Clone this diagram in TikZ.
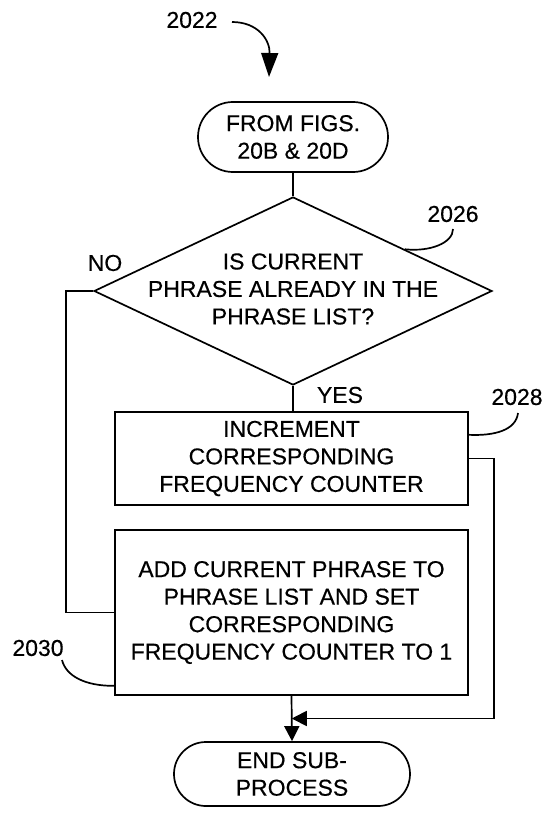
\documentclass[tikz,border=0pt]{standalone}
\usepackage{fontspec}
\setmainfont[FakeBold=0.4]{Liberation Sans}
\usetikzlibrary{shapes.geometric,arrows.meta,calc}
\begin{document}
\begin{tikzpicture}[x=1pt,y=-1pt,
  txt/.style={font=\fontsize{23}{27.5}\selectfont, align=center, inner sep=0pt},
  ln/.style={line width=1.7pt},
  term/.style={txt, draw, line width=1.7pt},
  procbox/.style={txt, draw, line width=1.7pt},
  arr/.style={-{Triangle[length=15pt,width=15pt]}},
  bigarr/.style={-{Triangle[length=24pt,width=17pt]}},
]
\useasboundingbox (0,0) rectangle (548,813);
% nodes
\node[term, rounded corners=34.9pt, minimum width=190pt, minimum height=70pt] (start) at (293,137) {FROM FIGS.\\20B \& 20D};
\node[draw, line width=1.7pt, shape=diamond, inner sep=0pt, minimum width=398pt, minimum height=188pt] (dec) at (293,291) {};
\node[txt] (dectext) at (293,289) {IS CURRENT\\PHRASE ALREADY IN THE\\PHRASE LIST?};
\node[procbox, minimum width=353pt, minimum height=93pt] (inc) at (291.5,458.5) {INCREMENT\\CORRESPONDING\\FREQUENCY COUNTER};
\node[procbox, minimum width=353pt, minimum height=165pt] (add) at (291.5,612.5) {ADD CURRENT PHRASE TO\\PHRASE LIST AND SET\\CORRESPONDING\\FREQUENCY COUNTER TO 1};
\node[term, rounded corners=31.9pt, minimum width=236pt, minimum height=64pt] (fin) at (292,774) {END SUB-\\PROCESS};
% labels
\node[txt] (l2022) at (192,20) {2022};
\node[txt] (l2026) at (453,214) {2026};
\node[txt] (l2028) at (517,397) {2028};
\node[txt] (l2030) at (38,648) {2030};
\node[txt] (lno) at (105,263) {NO};
\node[txt] (lyes) at (340,395) {YES};
% coordinates
\coordinate (a0) at (232,22);
\coordinate (a1) at (269,77);
\coordinate (join) at ($(add.south)!0.5!(fin.north)$);
\coordinate (e2026) at ($(dec.north)!0.56!(dec.east)$);
\coordinate (e2028) at ($(inc.north east)!0.25!(inc.south east)$);
\coordinate (e2030) at ($(add.north west)!0.94!(add.south west)$);
% connectors
\draw[ln, bigarr] (a0) .. controls (258,22) and (270,40) .. (a1);
\draw[ln] (start.south) -- (dec.north);
\draw[ln] (dec.south) -- (dec.south |- inc.north);
\draw[ln] (dec.west) -- ++(-27,0) |- (add.west);
\draw[ln, arr] (add.south) -- (fin.north);
\draw[ln, arr] (inc.east) -- ++(25,0) |- (join);
% leaders
\draw[ln] (453,229) .. controls (453,243) and (430,252) .. (e2026);
\draw[ln] (518,413) .. controls (516,430) and (495,436) .. (e2028);
\draw[ln] (62,660) .. controls (66,676) and (85,686) .. (e2030);
\end{tikzpicture}
\end{document}
